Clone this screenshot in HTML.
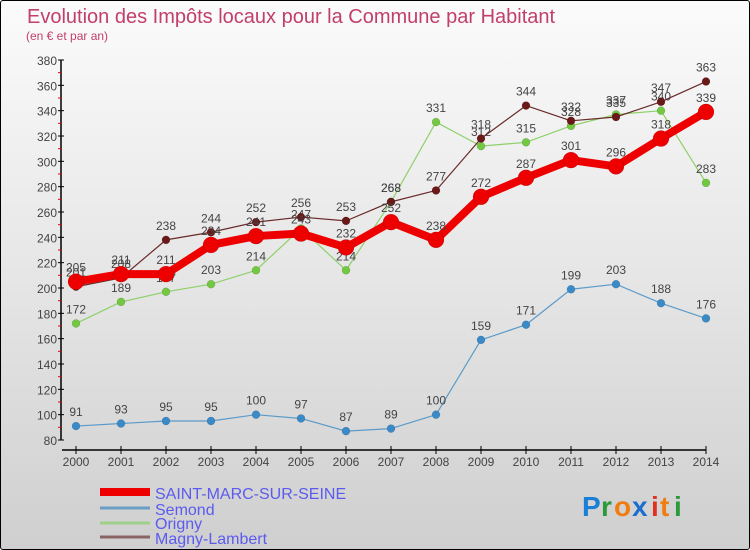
<!DOCTYPE html>
<html><head><meta charset="utf-8">
<style>
body{margin:0;width:750px;height:550px;overflow:hidden;font-family:"Liberation Sans",sans-serif;}
#wrap{position:absolute;left:0;top:0;width:748px;height:548px;border:1px solid #000;border-radius:3px;background:linear-gradient(#fbfbfb,#e6e6e6 50%,#cfcfcf);}
</style></head><body>
<div id="wrap">
<svg id="chart" width="750" height="550" style="position:absolute;left:-1px;top:-1px">
<text x="27" y="23" font-size="20" fill="#c23e6c">Evolution des Impôts locaux pour la Commune par Habitant</text>
<text x="26" y="40" font-size="12" fill="#c23e6c">(en € et par an)</text>
<g id="axes"></g><g id="series"></g>
<g>
<line x1="100" y1="492" x2="150" y2="492" stroke="#ee0000" stroke-width="8"/>
<text x="155" y="499" font-size="16" fill="#5b5bef">SAINT-MARC-SUR-SEINE</text>
<line x1="100" y1="508" x2="150" y2="508" stroke="#6a9ec4" stroke-width="3"/>
<text x="155" y="515" font-size="16" fill="#5b5bef">Semond</text>
<line x1="100" y1="523" x2="150" y2="523" stroke="#9fd08a" stroke-width="3"/>
<text x="155" y="529" font-size="16" fill="#5b5bef">Origny</text>
<line x1="100" y1="537" x2="150" y2="537" stroke="#8a6464" stroke-width="3"/>
<text x="155" y="544" font-size="16" fill="#5b5bef">Magny-Lambert</text>
</g>
<g font-size="28" font-weight="bold">
<text x="582" y="516" fill="#1a7fd6">P</text><text x="601" y="516" fill="#2a9a3a">r</text><text x="614" y="516" fill="#f07d10">o</text><text x="632" y="516" fill="#1a6fd0">x</text><text x="651" y="516" fill="#e03020">i</text><text x="660" y="516" fill="#f07d10">t</text><text x="674" y="516" fill="#2a9a3a">i</text>
</g>
</svg>
</div>
<script>
const years=["2000","2001","2002","2003","2004","2005","2006","2007","2008","2009","2010","2011","2012","2013","2014"];
const yTicks=[80,100,120,140,160,180,200,220,240,260,280,300,320,340,360,380];
const saintMarc=[205,211,211,234,241,243,232,252,238,272,287,301,296,318,339];
const semond=[91,93,95,95,100,97,87,89,100,159,171,199,203,188,176];
const origny=[172,189,197,203,214,247,214,268,331,312,315,328,337,340,283];
const magny=[201,208,238,244,252,256,253,268,277,318,344,332,335,347,363];
const NS="http://www.w3.org/2000/svg";
function X(i){return 76+i*45;}
function Y(v){return 440-(v-80)*380/300;}
function mk(tag,attrs,parent){const e=document.createElementNS(NS,tag);for(const k in attrs)e.setAttribute(k,attrs[k]);parent.appendChild(e);return e;}
const ax=document.getElementById('axes');
const yaxis=mk('line',{x1:61,y1:Y(380),x2:61,y2:Y(80),stroke:'#000','stroke-width':1.5},ax);


const xaxis=mk('line',{x1:62,y1:450,x2:X(14),y2:450,stroke:'#000','stroke-width':1.5},ax);


yTicks.forEach((v,i)=>{
  mk('line',{x1:58,y1:Y(v),x2:64,y2:Y(v),stroke:'#000'},ax);
  if(i<yTicks.length-1) mk('line',{x1:58,y1:Y(v+10),x2:61,y2:Y(v+10),stroke:'#e00'},ax);
  const t=mk('text',{x:57,y:Y(v)+5,'font-size':12,fill:'#444','text-anchor':'end'},ax);
  t.textContent=v;
  
  
});
years.forEach((y,i)=>{
  mk('line',{x1:X(i),y1:446,x2:X(i),y2:454,stroke:'#000'},ax);
  const t=mk('text',{x:X(i),y:466,'font-size':12,fill:'#444','text-anchor':'middle'},ax);
  t.textContent=y;
  
  
});
const sg=document.getElementById('series');
function drawSeries(vals,color,lw,r,name,fill){
  const g=mk('g',{},sg);
  
  
  const pl=mk('polyline',{points:vals.map((v,i)=>X(i)+','+Y(v)).join(' '),fill:'none',stroke:color,'stroke-width':lw,'stroke-linejoin':'round'},g);
  
  
  vals.forEach((v,i)=>{
    const c=mk('circle',{cx:X(i),cy:Y(v),r:r,fill:fill,stroke:'rgba(0,0,0,0.2)','stroke-width':0.5},g);
    
    
    const t=mk('text',{x:X(i),y:Y(v)-10,'font-size':12,fill:'#444','text-anchor':'middle'},g);
    t.textContent=v;
    
    
  });
}
drawSeries(semond,'#5b9bc9',1.2,4,'semond','#3a8ac8');
drawSeries(origny,'#8ed06a',1.2,4,'origny','#72c840');
drawSeries(magny,'#6a2a2a',1.2,4,'magny-lambert','#6a1818');
drawSeries(saintMarc,'#ee0000',8,8,'saint-marc','#ee0000');
</script>
</body></html>
